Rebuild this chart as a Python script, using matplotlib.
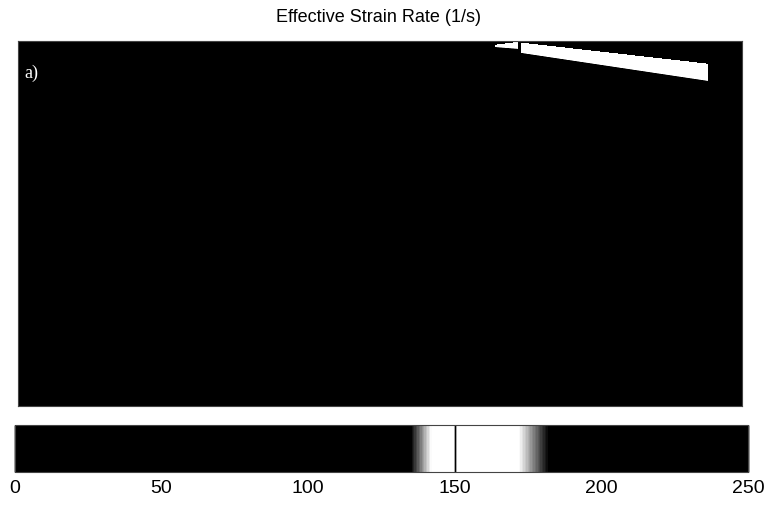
import numpy as np
import matplotlib
matplotlib.use("Agg")
import matplotlib.pyplot as plt
from matplotlib.colors import LinearSegmentedColormap, Normalize

# Colour scale (1/s) and its grey-level anchors
strain_ticks = [0, 50, 100, 150, 200, 250]
cmap_levels = [0, 135, 142, 172, 182, 250]
cmap_gray = [0.0, 0.0, 1.0, 1.0, 0.0, 0.0]

# Shear band geometry (normalised x along the domain, depth from the top)
wedge_x = [0.659, 0.691]
wedge_top = [0.011, 0.003]
wedge_bot = [0.011, 0.016]
band_x = [0.695, 0.954]
band_top = [0.005, 0.063]
band_bot = [0.027, 0.104]

rate_band = 158.0      # strain rate inside the band
rate_background = 10.0  # strain rate elsewhere

vmin, vmax = strain_ticks[0], strain_ticks[-1]
positions = [v / vmax for v in cmap_levels]
cmap = LinearSegmentedColormap.from_list(
    "strain", list(zip(positions, [(g, g, g) for g in cmap_gray])), N=512)

nx, ny = 1448, 730
xs = (np.arange(nx) + 0.5) / nx
ds = (np.arange(ny) + 0.5) / ny
X, D = np.meshgrid(xs, ds)
field = np.full_like(X, rate_background)


def add_band(bx, btop, bbot):
    inside_x = (X >= bx[0]) & (X <= bx[1])
    top = np.interp(X, bx, btop)
    bot = np.interp(X, bx, bbot)
    core = inside_x & (D >= top) & (D <= bot)
    field[core] = rate_band
    # soft fall-off just below the lower edge
    edge = inside_x & (D > bot) & (D <= bot + 0.008)
    frac = (D[edge] - bot[edge]) / 0.008
    field[edge] = np.maximum(field[edge], rate_band - frac * 25.0)


add_band(wedge_x, wedge_top, wedge_bot)
add_band(band_x, band_top, band_bot)

fig = plt.figure(figsize=(7.71, 5.08), dpi=100)
W, H = 771, 508
norm = Normalize(vmin=vmin, vmax=vmax)

ax = fig.add_axes([18 / W, 1 - 406 / H, 724 / W, 365 / H])
im = ax.imshow(field, cmap=cmap, norm=norm, extent=[0, 1, 1, 0],
               aspect="auto", interpolation="nearest")
ax.set_xticks([])
ax.set_yticks([])
for s in ax.spines.values():
    s.set_color("#444444")
    s.set_linewidth(0.8)
ax.text(0.009, 0.912, "a)", transform=ax.transAxes, color="white",
        fontsize=13, family="Liberation Serif", va="center", ha="left")

fig.text(378 / W, 1 - 18 / H, "Effective Strain Rate (1/s)",
         ha="center", va="center", fontsize=13, family="Liberation Sans")

cax = fig.add_axes([15 / W, 1 - 472 / H, 733 / W, 47 / H])
cb = fig.colorbar(im, cax=cax, orientation="horizontal", ticks=strain_ticks)
cb.outline.set_edgecolor("#444444")
cb.outline.set_linewidth(0.8)
cax.tick_params(axis="x", direction="in", length=34, width=1.0,
                top=True, bottom=True, color="black", pad=6,
                labelsize=14)
cax.set_xticklabels([str(t) for t in strain_ticks], family="Liberation Sans")

fig.savefig("out.png", dpi=100, facecolor="white")
